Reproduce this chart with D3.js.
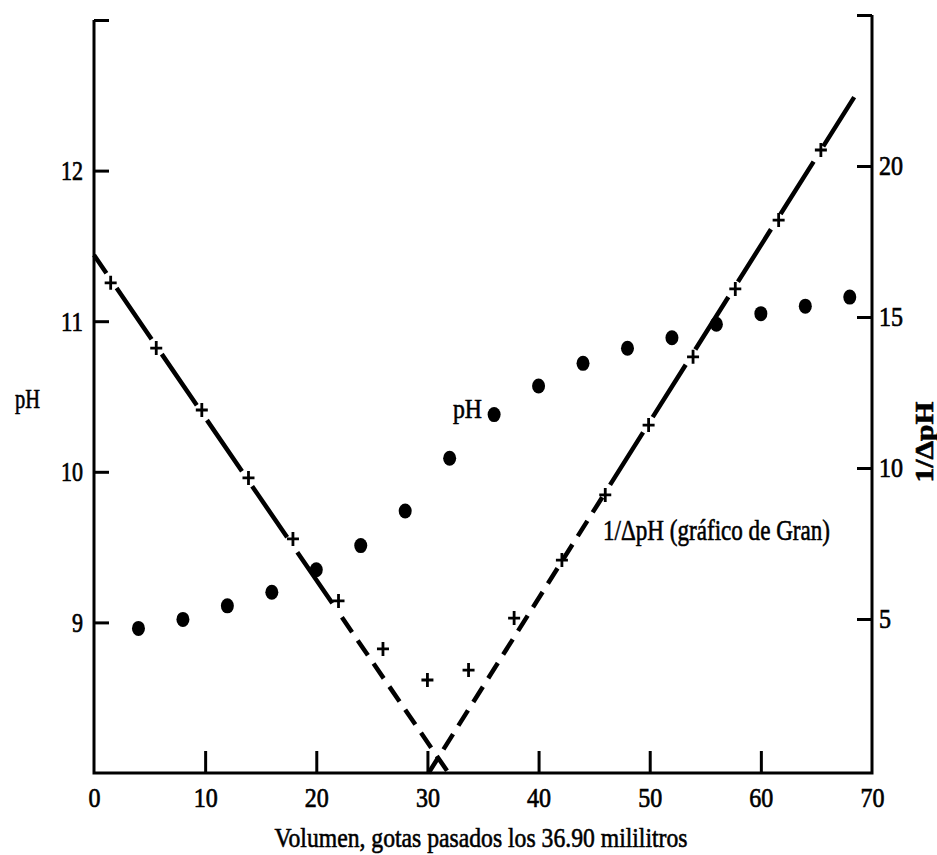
<!DOCTYPE html>
<html>
<head>
<meta charset="utf-8">
<script src="https://cdn.jsdelivr.net/npm/d3@7"></script>
<style>
  body { margin: 0; background: #fff; }
  text { font-family: "Liberation Serif", "DejaVu Serif", serif; fill: #000; stroke: #000; stroke-width: 0.6px; }
</style>
</head>
<body>
<div id="chart"></div>
<script>
// volumen (gotas) vs pH
const volPH = [4, 8, 12, 16, 20, 24, 28, 32, 36, 40, 44, 48, 52, 56, 60, 64, 68];
const phValues = [8.96, 9.02, 9.11, 9.20, 9.35, 9.51, 9.74, 10.09, 10.38, 10.57, 10.72, 10.82, 10.89, 10.98, 11.05, 11.10, 11.16];

// 1/ΔpH points (gráfico de Gran)
const volGran = [1.5, 5.6, 9.7, 13.9, 17.9, 22, 26, 30, 33.7, 37.8, 42.1, 46, 49.9, 53.9, 57.7, 61.6, 65.4];
const granValues = [16.13, 13.97, 11.92, 9.67, 7.65, 5.60, 4.01, 2.98, 3.31, 5.03, 6.95, 9.11, 11.42, 13.68, 15.93, 18.21, 20.53];

// the two straight lines drawn through the Gran points
const fallVol = [0, 22, 31.9];
const fallGran = [17.05, 5.22, -0.1];
const riseVol = [30.1, 46, 68.4];
const riseGran = [-0.1, 9.19, 22.28];

const xTicks = [0, 10, 20, 30, 40, 50, 60, 70];
const phTicks = [9, 10, 11, 12, 13];
const granTicks = [5, 10, 15, 20, 25];

const margin = { top: 20, right: 65, bottom: 82, left: 94 },
    width = 937 - margin.left - margin.right,
    height = 855 - margin.top - margin.bottom;

const svg = d3.select("#chart")
    .append("svg")
    .attr("width", width + margin.left + margin.right)
    .attr("height", height + margin.top + margin.bottom)
    .append("g")
    .attr("transform", `translate(${margin.left}, ${margin.top})`);

const x = d3.scaleLinear().domain([0, 70]).range([0, width]);
const yPH = d3.scaleLinear().domain([8, 13]).range([height, 0]);
const yGran = d3.scaleLinear().domain([0, 25]).range([height - 3, -5]);

// squeeze the serif digits a bit, the print is condensed
function condense(sel, perChar) {
    sel.selectAll(".tick text")
        .attr("textLength", function () { return this.textContent.length * perChar; })
        .attr("lengthAdjust", "spacingAndGlyphs");
}

function styleAxis(g) {
    g.select(".domain").remove();
    g.selectAll(".tick line").attr("stroke", "#000").attr("stroke-width", 3);
    g.selectAll(".tick text")
        .style("font-size", "28px")
        .style("font-family", "Liberation Serif")
        .style("stroke", "#000")
        .style("stroke-width", "0.7px");
}

// axes frame
svg.append("path")
    .attr("d", `M${x(0)},${yPH(13)}V${yPH(8)}H${x(70)}V${yGran(25)}`)
    .attr("fill", "none")
    .attr("stroke", "#000")
    .attr("stroke-width", 3);

const gx = svg.append("g")
    .attr("transform", `translate(0, ${height})`)
    .call(d3.axisBottom(x).tickValues(xTicks).tickSize(-22).tickPadding(14))
    .call(styleAxis);
gx.selectAll(".tick line").filter(d => d === 0 || d === 70).remove();
condense(gx, 12);

const gl = svg.append("g")
    .call(d3.axisLeft(yPH).tickValues(phTicks).tickSize(-15).tickPadding(11)
        .tickFormat(d => d === 13 ? "" : d))
    .call(styleAxis);
condense(gl, 11);

const gr = svg.append("g")
    .attr("transform", `translate(${width}, 0)`)
    .call(d3.axisRight(yGran).tickValues(granTicks).tickSize(-15).tickPadding(7)
        .tickFormat(d => d === 25 ? "" : d))
    .call(styleAxis);
condense(gr, 12);

// fitted lines: long dashes away from the minimum, short dashes near it
const line = d3.line().x(d => x(d[0])).y(d => yGran(d[1]));

function drawLine(vol, gran, from, to, dash, offset) {
    svg.append("path")
        .datum(d3.zip(vol, gran).slice(from, to))
        .attr("d", line)
        .attr("fill", "none")
        .attr("stroke", "#000")
        .attr("stroke-width", 4.5)
        .attr("stroke-dasharray", dash)
        .attr("stroke-dashoffset", offset);
}
drawLine(fallVol, fallGran, 0, 2, "62,18", 40);
drawLine(fallVol, fallGran, 1, 3, "18,10", -6);
drawLine(riseVol, riseGran, 0, 2, "18,10", 0);
drawLine(riseVol, riseGran, 1, 3, "62,18", 71);

// Gran points as crosses
svg.append("g")
    .selectAll("path")
    .data(d3.zip(volGran, granValues))
    .join("path")
    .attr("transform", d => `translate(${x(d[0])}, ${yGran(d[1])})`)
    .attr("d", "M-6,0H6M0,-7V7")
    .attr("stroke", "#000")
    .attr("stroke-width", 2.8)
    .attr("fill", "none");

// pH points
svg.append("g")
    .selectAll("ellipse")
    .data(d3.zip(volPH, phValues))
    .join("ellipse")
    .attr("cx", d => x(d[0]))
    .attr("cy", d => yPH(d[1]))
    .attr("rx", 6.5)
    .attr("ry", 7.5)
    .attr("fill", "#000");

// labels
svg.append("text")
    .attr("x", 453 - margin.left)
    .attr("y", 418 - margin.top)
    .attr("textLength", 29)
    .attr("lengthAdjust", "spacingAndGlyphs")
    .style("font-size", "27px")
    .text("pH");

svg.append("text")
    .attr("x", 603 - margin.left)
    .attr("y", 540 - margin.top)
    .attr("textLength", 227)
    .attr("lengthAdjust", "spacingAndGlyphs")
    .style("font-size", "30px")
    .text("1/ΔpH (gráfico de Gran)");

svg.append("text")
    .attr("x", 15 - margin.left)
    .attr("y", 408 - margin.top)
    .attr("textLength", 25)
    .attr("lengthAdjust", "spacingAndGlyphs")
    .style("font-size", "27px")
    .text("pH");

svg.append("text")
    .attr("text-anchor", "middle")
    .attr("transform", `translate(${933 - margin.left}, ${442 - margin.top}) rotate(-90)`)
    .attr("textLength", 81)
    .attr("lengthAdjust", "spacingAndGlyphs")
    .style("font-size", "25px")
    .style("font-weight", "bold")
    .text("1/ΔpH");

svg.append("text")
    .attr("text-anchor", "middle")
    .attr("x", 481 - margin.left)
    .attr("y", 847 - margin.top)
    .attr("textLength", 413)
    .attr("lengthAdjust", "spacingAndGlyphs")
    .style("font-size", "28px")
    .text("Volumen, gotas pasados los 36.90 mililitros");
</script>
</body>
</html>
